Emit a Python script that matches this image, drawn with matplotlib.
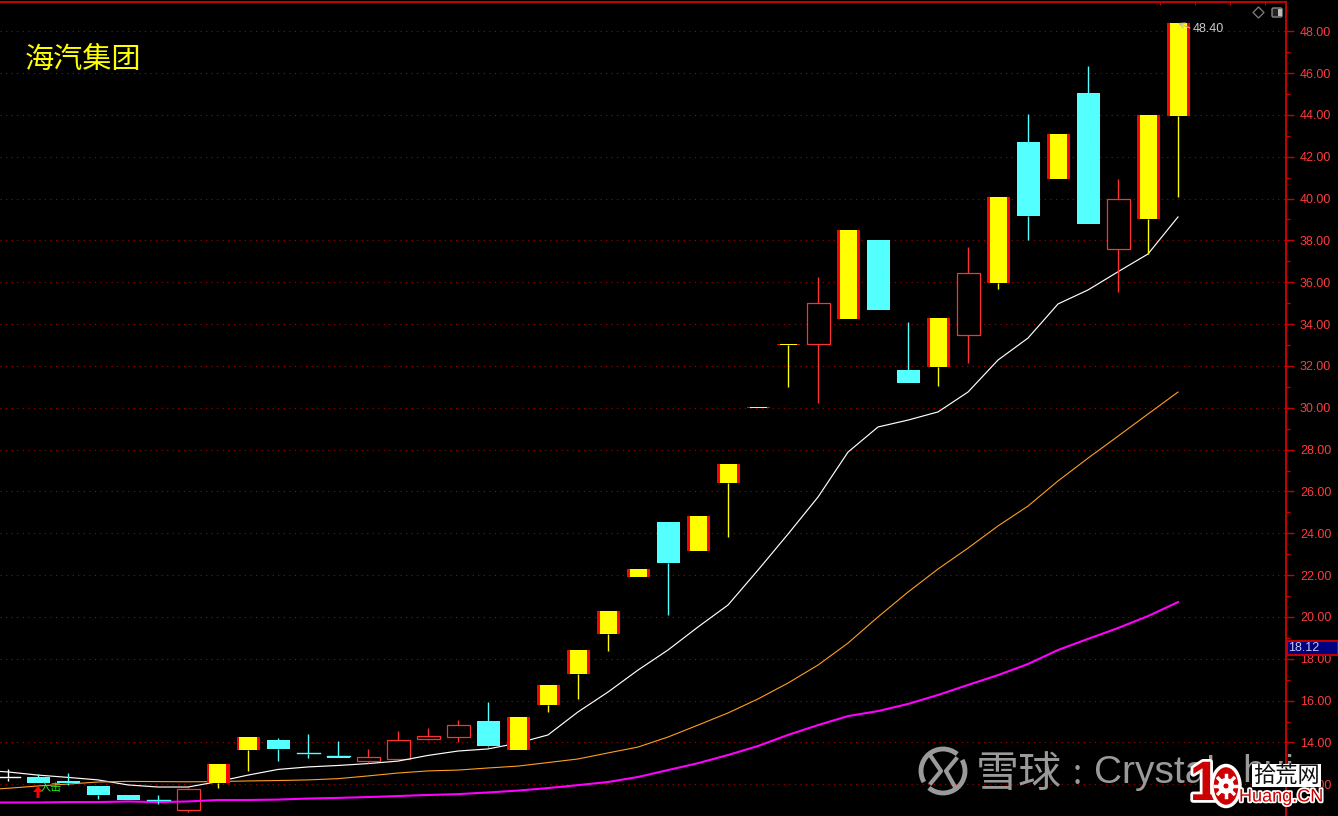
"""海汽集团 daily candles with three moving averages, on a trading-terminal style black chart."""

import matplotlib

matplotlib.use("Agg")
import matplotlib.patheffects as pe
import matplotlib.pyplot as plt
import numpy as np
from matplotlib.patches import Arc, Circle, Ellipse, FancyBboxPatch, Polygon, Rectangle

plt.rcParams["font.family"] = ["Noto Sans CJK SC", "DejaVu Sans"]

# candle kinds: w = white doji, c = cyan (down), h = hollow red (up), y = yellow with red edges
KINDS = list("wccccchyyccchhhhcyyyyycyyyyhyccyhycychyy")
BODY_TOP = [12.33, 12.35, 12.16, 11.92, 11.49, 11.25, 11.78, 12.97, 14.26, 14.12,
            13.50, 13.35, 13.29, 14.10, 14.31, 14.82, 15.03, 15.22, 16.75, 18.42,
            20.28, 22.29, 24.54, 24.82, 27.31, 30.02, 33.03, 35.00, 38.50, 38.02,
            31.80, 34.29, 36.43, 40.07, 42.70, 43.09, 45.05, 39.98, 43.99, 48.40]
BODY_BOTTOM = [12.31, 12.06, 12.05, 11.49, 11.25, 11.20, 10.79, 12.06, 13.64, 13.69,
               13.45, 13.26, 13.13, 13.22, 14.17, 14.28, 13.83, 13.64, 15.79, 17.27,
               19.18, 21.91, 22.58, 23.15, 26.40, 30.00, 33.00, 33.03, 34.24, 34.67,
               31.18, 31.95, 33.49, 35.96, 39.17, 40.93, 38.78, 37.59, 39.02, 43.94]
HIGHS = [12.73, 12.49, 12.54, 11.92, 11.49, 11.49, 11.82, 12.97, 14.26, 14.21,
         14.40, 14.07, 13.69, 14.55, 14.69, 15.07, 15.93, 15.22, 16.75, 18.42,
         20.28, 22.29, 24.54, 24.82, 27.31, 30.02, 33.03, 36.25, 38.50, 38.02,
         34.10, 34.29, 37.68, 40.07, 44.04, 43.09, 46.34, 40.93, 43.99, 48.40]
LOWS = [12.16, 12.06, 11.97, 11.30, 11.25, 11.06, 10.69, 11.82, 12.64, 13.11,
        13.26, 13.26, 13.02, 13.22, 14.12, 14.02, 13.78, 13.64, 15.46, 16.08,
        18.37, 21.91, 20.09, 23.15, 23.82, 30.00, 31.00, 30.24, 34.24, 34.67,
        31.18, 31.05, 32.14, 35.67, 38.02, 40.93, 38.78, 35.53, 37.35, 40.07]

# moving averages start one session before the first candle on screen
MA_WHITE = [12.68, 12.59, 12.44, 12.33, 12.21, 11.97, 11.87, 11.87, 12.13, 12.44, 12.71,
            12.83, 12.90, 12.99, 13.11, 13.38, 13.59, 13.69, 13.97, 14.36, 15.46,
            16.41, 17.46, 18.42, 19.52, 20.57, 22.24, 23.96, 25.73, 27.88, 29.08,
            29.41, 29.80, 30.75, 32.28, 33.33, 34.96, 35.63, 36.50, 37.35, 39.12]
MA_ORANGE = [11.72, 11.81, 11.92, 12.01, 12.11, 12.14, 12.13, 12.12, 12.13, 12.16, 12.18,
             12.21, 12.27, 12.40, 12.54, 12.64, 12.68, 12.78, 12.87, 13.04, 13.21,
             13.50, 13.78, 14.26, 14.83, 15.41, 16.08, 16.84, 17.70, 18.75, 20.00,
             21.19, 22.29, 23.29, 24.35, 25.30, 26.50, 27.59, 28.64, 29.70, 30.75]
MA_MAGENTA = [11.13, 11.13, 11.13, 11.15, 11.15, 11.18, 11.15, 11.18, 11.25, 11.25, 11.27,
              11.32, 11.35, 11.39, 11.44, 11.49, 11.53, 11.61, 11.70, 11.82, 11.96,
              12.11, 12.35, 12.68, 13.01, 13.40, 13.83, 14.36, 14.83, 15.26, 15.50,
              15.84, 16.27, 16.75, 17.22, 17.75, 18.42, 18.95, 19.47, 20.04, 20.71]

MAJOR_TICKS = [12, 14, 16, 18, 20, 22, 24, 26, 28, 30, 32, 34, 36, 38, 40, 42, 44, 46, 48]
LAST_CLOSE = 48.40
CURRENT_MARK = 18.12

W, H = 1338, 816
RED = "#ff0000"
AXIS_RED = "#c80000"
HOLLOW = "#ff3232"
CYAN = "#54ffff"
YELLOW = "#ffff00"


def draw_candles(ax):
    """Draw wicks and bodies for every session."""
    half = 11.5 / 30
    for i, kind in enumerate(KINDS):
        top, bottom = BODY_TOP[i], BODY_BOTTOM[i]
        wick = {"w": "white", "c": CYAN, "h": HOLLOW, "y": YELLOW}[kind]
        ax.plot([i, i], [LOWS[i], bottom], color=wick, lw=1, zorder=4, solid_capstyle="butt")
        ax.plot([i, i], [top, HIGHS[i]], color=wick, lw=1, zorder=4, solid_capstyle="butt")
        height = top - bottom
        if kind == "w":
            ax.plot([i - half, i + half], [top, top], color="white", lw=1, zorder=4)
        elif kind == "c":
            ax.add_patch(Rectangle((i - half, bottom), 2 * half, height, fc=CYAN, ec="none", zorder=5))
            if height < 0.1:
                ax.plot([i - half, i + half], [top, top], color=CYAN, lw=1, zorder=5)
        elif kind == "h":
            # the averages run across hollow bodies, so these stay under the lines
            ax.add_patch(Rectangle((i - half, bottom), 2 * half, height, fc="black", ec=HOLLOW, lw=0.9, zorder=2.5))
        else:
            ax.add_patch(Rectangle((i - half, bottom), 2 * half, max(height, 0.05), fc=RED, ec="none", zorder=5))
            inset = 3 / 30
            ax.add_patch(Rectangle((i - half + inset, bottom), 2 * (half - inset), max(height, 0.05),
                                   fc=YELLOW, ec="none", zorder=6))


def draw_snowball_mark(over, grey):
    """Ring with two gaps and the two inner chevrons of the watermark."""
    over.add_patch(Arc((943, 771), 44, 44, theta1=-30, theta2=130, ec=grey, lw=3.5, zorder=10))
    over.add_patch(Arc((943, 771), 44, 44, theta1=150, theta2=310, ec=grey, lw=3.5, zorder=10))
    over.plot([930, 941, 931], [755, 771, 783], color=grey, lw=3, zorder=10)
    over.plot([956, 946, 955], [759, 771, 787], color=grey, lw=3, zorder=10)


def draw_site_logo(over):
    """The red 10 with a gear for its zero, next to the site name."""
    dark_red = "#cc0000"
    halo = [pe.withStroke(linewidth=4, foreground="white")]
    over.text(1205, 786, "1", color=dark_red, fontsize=40, weight="bold", family="Liberation Sans",
              ha="center", va="center", zorder=12, path_effects=halo)
    over.add_patch(Ellipse((1226, 786), 28, 41, fc=dark_red, ec="white", lw=2.5, zorder=12))
    over.add_patch(Circle((1226, 786), 8, fc="white", ec="none", zorder=13))
    for angle in np.arange(0, 360, 45):
        dx, dy = np.cos(np.radians(angle)), np.sin(np.radians(angle))
        over.plot([1226, 1226 + 11 * dx], [786, 786 + 11 * dy], color="white", lw=2.5, zorder=13)
    over.add_patch(Circle((1226, 786), 2.5, fc=dark_red, ec="none", zorder=14))
    over.add_patch(Rectangle((1252, 764), 69, 23, fc="white", ec="none", zorder=11))
    over.text(1286, 776, "拾荒网", color="#111111", fontsize=16, ha="center", va="center", zorder=12)
    over.text(1281, 797, "Huang.CN", color=dark_red, fontsize=13, family="Liberation Sans",
              ha="center", va="center", zorder=12, path_effects=[pe.withStroke(linewidth=2.5, foreground="white")])


def draw_overlays(fig):
    """Terminal icons, labels and the two watermarks, placed in pixel coordinates."""
    over = fig.add_axes([0, 0, 1, 1], facecolor="none")
    over.set_xlim(0, W)
    over.set_ylim(H, 0)
    over.axis("off")

    over.text(25, 60, "海汽集团", color=YELLOW, fontsize=21, weight="medium", va="center", ha="left")

    # buy arrow and signal text
    over.add_patch(Polygon([(38, 786), (33, 792), (36.5, 792), (36.5, 798), (39.5, 798), (39.5, 792), (43, 792)],
                           fc=RED, ec="none", zorder=8))
    over.text(51, 788, "入击", color="#22ee22", fontsize=8, ha="center", va="center", zorder=7)

    # diamond and panel toggle
    over.add_patch(Polygon([(1258.5, 7), (1264, 12.5), (1258.5, 18), (1253, 12.5)], fc="none", ec="#777777", lw=1))
    over.add_patch(FancyBboxPatch((1272, 8), 10, 9, boxstyle="round,pad=0,rounding_size=1.5",
                                  fc="#222222", ec="#888888", lw=1))
    over.add_patch(Rectangle((1278, 9), 4, 7, fc="#bbbbbb", ec="none"))

    # latest high label
    over.annotate("", xy=(1178, 23), xytext=(1190, 28), zorder=8,
                  arrowprops=dict(arrowstyle="->", color="#bbbbbb", lw=0.8, shrinkA=0, shrinkB=0))
    over.text(1193, 29, f"{LAST_CLOSE:.2f}", color="#cccccc", fontsize=9, family="Liberation Sans", va="center", zorder=8)

    # price box on the axis
    over.add_patch(Rectangle((1287, 640.5), 51, 14.5, fc="#000080", ec=AXIS_RED, lw=1.4, zorder=8))
    over.text(1288, 648, f"{CURRENT_MARK:.2f}", color="#c8c8e8", fontsize=9, family="Liberation Sans",
              va="center", zorder=9)

    # snowball watermark
    grey = "#9a9a9a"
    draw_snowball_mark(over, grey)
    over.text(976, 775, "雪球", color=grey, fontsize=31, weight="medium", va="center", zorder=10)
    over.text(1077, 774, ":", color=grey, fontsize=24, va="center", ha="center", zorder=10)
    over.text(1094, 773, "Crystal", color=grey, fontsize=28, family="Liberation Sans", va="center", zorder=10)
    over.text(1242, 772, "hui", color=grey, fontsize=28, family="Liberation Sans", va="center", zorder=10)

    draw_site_logo(over)


def main():
    """Build the chart and save it."""
    fig = plt.figure(figsize=(W / 100, H / 100), dpi=100, facecolor="black")
    ax = fig.add_axes([0, 0, 1286 / W, (H - 2) / H], facecolor="black")
    ax.set_xlim((0 - 8) / 30, (1286 - 8) / 30)
    ax.set_ylim(12 + (784.3 - 816) / 20.92, 12 + (784.3 - 2) / 20.92)

    ma_sessions = np.arange(-1, len(KINDS))
    ax.plot(ma_sessions, MA_WHITE, color="white", lw=0.85, zorder=3)
    ax.plot(ma_sessions, MA_ORANGE, color="#ffa020", lw=0.8, zorder=3)
    ax.plot(ma_sessions, MA_MAGENTA, color="#ff00ff", lw=1.5, zorder=3)
    draw_candles(ax)

    for spine in ("left", "bottom"):
        ax.spines[spine].set_visible(False)
    for spine in ("top", "right"):
        ax.spines[spine].set_color(AXIS_RED)
        ax.spines[spine].set_linewidth(1.4)

    ax.yaxis.tick_right()
    ax.set_yticks(MAJOR_TICKS)
    ax.set_yticklabels([f"{v:.2f}" for v in MAJOR_TICKS], fontsize=9, family="Liberation Sans")
    ax.set_yticks(np.arange(11, 49, 2), minor=True)
    ax.tick_params(axis="y", which="major", colors=AXIS_RED, labelcolor="#ff3c3c", length=6, width=1, pad=4)
    ax.tick_params(axis="y", which="minor", colors=AXIS_RED, length=3, width=1)
    ax.tick_params(axis="x", which="both", top=True, bottom=False, labelbottom=False, direction="in",
                   colors=AXIS_RED, length=2)
    ax.set_xticks((np.arange(1160, 1290, 35) - 8) / 30)
    ax.grid(axis="y", which="major", color="#a80000", linestyle=(0, (1, 4)), lw=0.8, zorder=1)
    ax.set_axisbelow(True)

    draw_overlays(fig)
    fig.savefig("out.png", dpi=100, facecolor="black")


if __name__ == "__main__":
    main()
